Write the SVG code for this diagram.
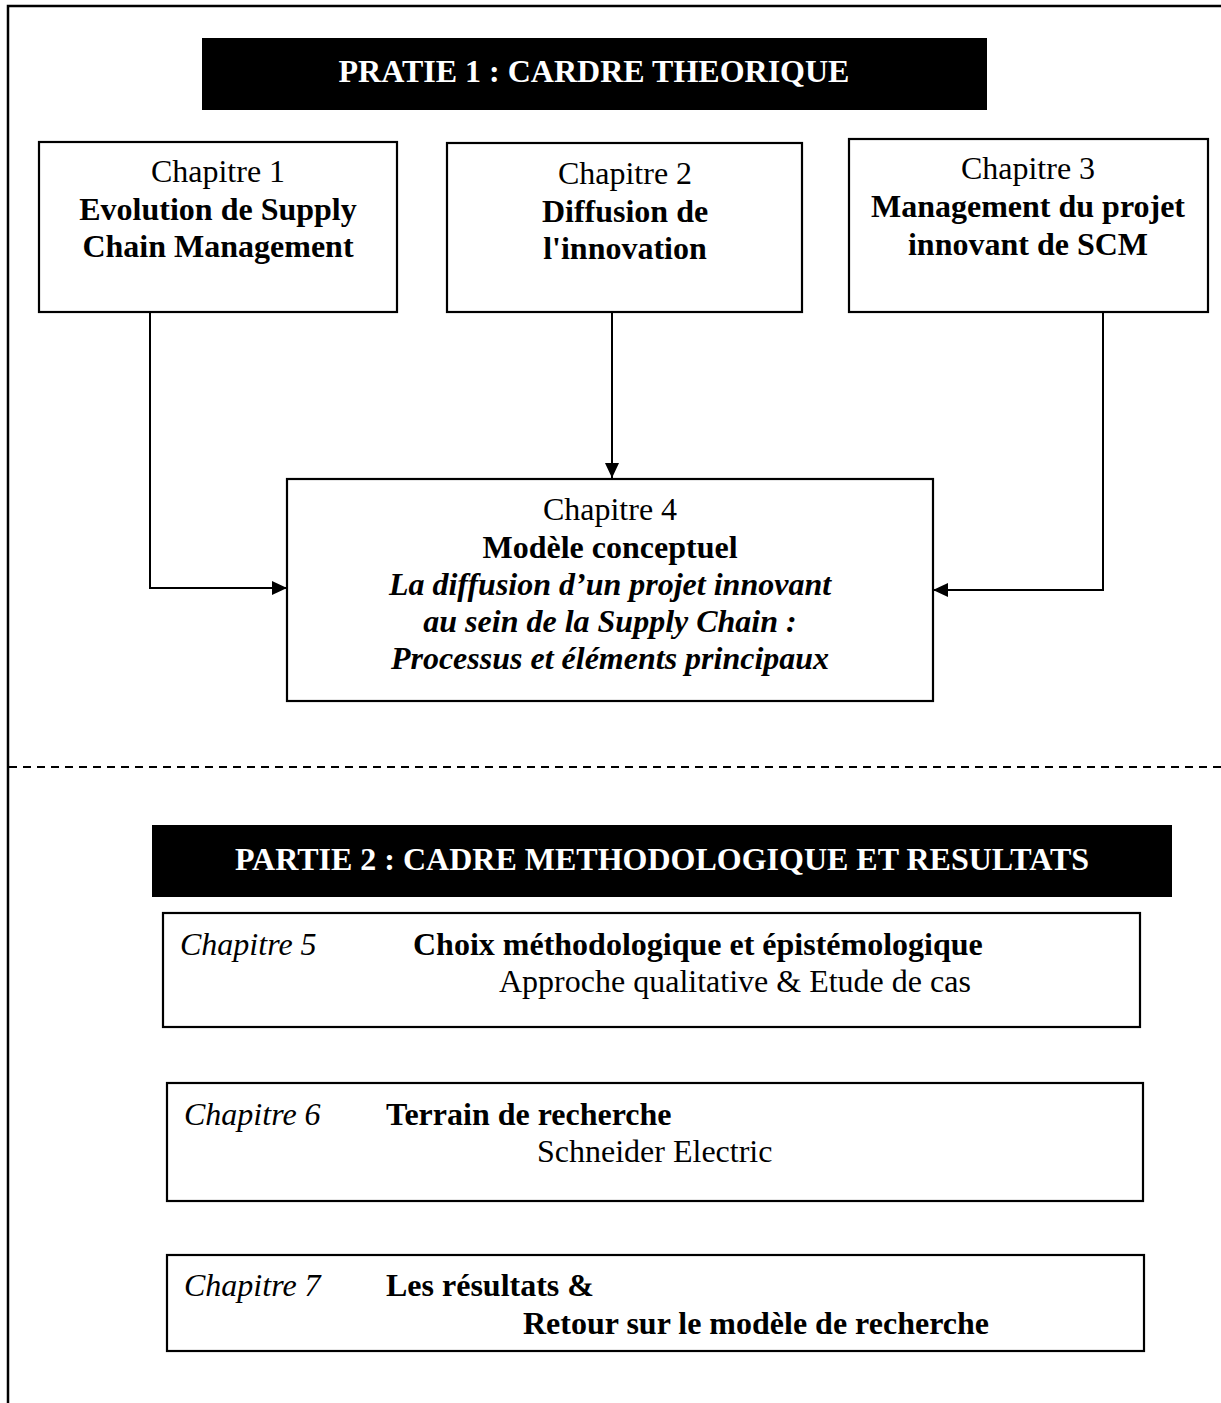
<svg xmlns="http://www.w3.org/2000/svg" width="1221" height="1403" viewBox="0 0 1221 1403">
<style>
.t{font-family:"Liberation Serif","Times New Roman",serif;font-size:32px;fill:#000}
.c{text-anchor:middle}
.b{font-weight:bold}
.i{font-style:italic}
.w{fill:#fff}
.box{fill:#fff;stroke:#000;stroke-width:2.2}
.blk{fill:#000}
.ln{fill:none;stroke:#000;stroke-width:2}
</style>
<defs>
<marker id="ah" markerUnits="userSpaceOnUse" markerWidth="16" markerHeight="14" refX="15" refY="7" orient="auto">
<path d="M0,0 L15,7 L0,14 z" fill="#000"/>
</marker>
</defs>
<rect width="1221" height="1403" fill="#fff"/>
<g id="frame">
<path d="M8,1403 V6 H1221" fill="none" stroke="#000" stroke-width="2.5"/>
<line x1="9" y1="767" x2="1221" y2="767" stroke="#000" stroke-width="2" stroke-dasharray="8,6"/>
</g>
<g id="title1">
<rect class="blk" x="202" y="38" width="785" height="72"/>
<text class="t c b w" x="594" y="82">PRATIE 1 : CARDRE THEORIQUE</text>
</g>
<g id="ch1">
<rect class="box" x="39" y="142" width="358" height="170"/>
<text class="t c" x="218" y="182">Chapitre 1</text>
<text class="t c b" x="218" y="220">Evolution de Supply</text>
<text class="t c b" x="218" y="257">Chain Management</text>
</g>
<g id="ch2">
<rect class="box" x="447" y="143" width="355" height="169"/>
<text class="t c" x="625" y="184">Chapitre 2</text>
<text class="t c b" x="625" y="222">Diffusion de</text>
<text class="t c b" x="625" y="259">l'innovation</text>
</g>
<g id="ch3">
<rect class="box" x="849" y="139" width="359" height="173"/>
<text class="t c" x="1028" y="179">Chapitre 3</text>
<text class="t c b" x="1028" y="217">Management du projet</text>
<text class="t c b" x="1028" y="255">innovant de SCM</text>
</g>
<g id="ch4">
<rect class="box" x="287" y="479" width="646" height="222"/>
<text class="t c" x="610" y="520">Chapitre 4</text>
<text class="t c b" x="610" y="558">Modèle conceptuel</text>
<text class="t c b i" x="610" y="595">La diffusion d’un projet innovant</text>
<text class="t c b i" x="610" y="632">au sein de la Supply Chain :</text>
<text class="t c b i" x="610" y="669">Processus et éléments principaux</text>
</g>
<g id="connectors">
<path class="ln" d="M150,312 V588 H287" marker-end="url(#ah)"/>
<path class="ln" d="M612,312 V478" marker-end="url(#ah)"/>
<path class="ln" d="M1103,312 V590 H933" marker-end="url(#ah)"/>
</g>
<g id="title2">
<rect class="blk" x="152" y="825" width="1020" height="72"/>
<text class="t c b w" x="662" y="870">PARTIE 2 : CADRE METHODOLOGIQUE ET RESULTATS</text>
</g>
<g id="ch5">
<rect class="box" x="163" y="913" width="977" height="114"/>
<text class="t i" x="180" y="955">Chapitre 5</text>
<text class="t b" x="413" y="955">Choix méthodologique et épistémologique</text>
<text class="t" x="499" y="992">Approche qualitative &amp; Etude de cas</text>
</g>
<g id="ch6">
<rect class="box" x="167" y="1083" width="976" height="118"/>
<text class="t i" x="184" y="1125">Chapitre 6</text>
<text class="t b" x="386" y="1125">Terrain de recherche</text>
<text class="t" x="537" y="1162">Schneider Electric</text>
</g>
<g id="ch7">
<rect class="box" x="167" y="1255" width="977" height="96"/>
<text class="t i" x="184" y="1296">Chapitre 7</text>
<text class="t b" x="386" y="1296">Les résultats &amp;</text>
<text class="t b" x="523" y="1334">Retour sur le modèle de recherche</text>
</g>
</svg>
